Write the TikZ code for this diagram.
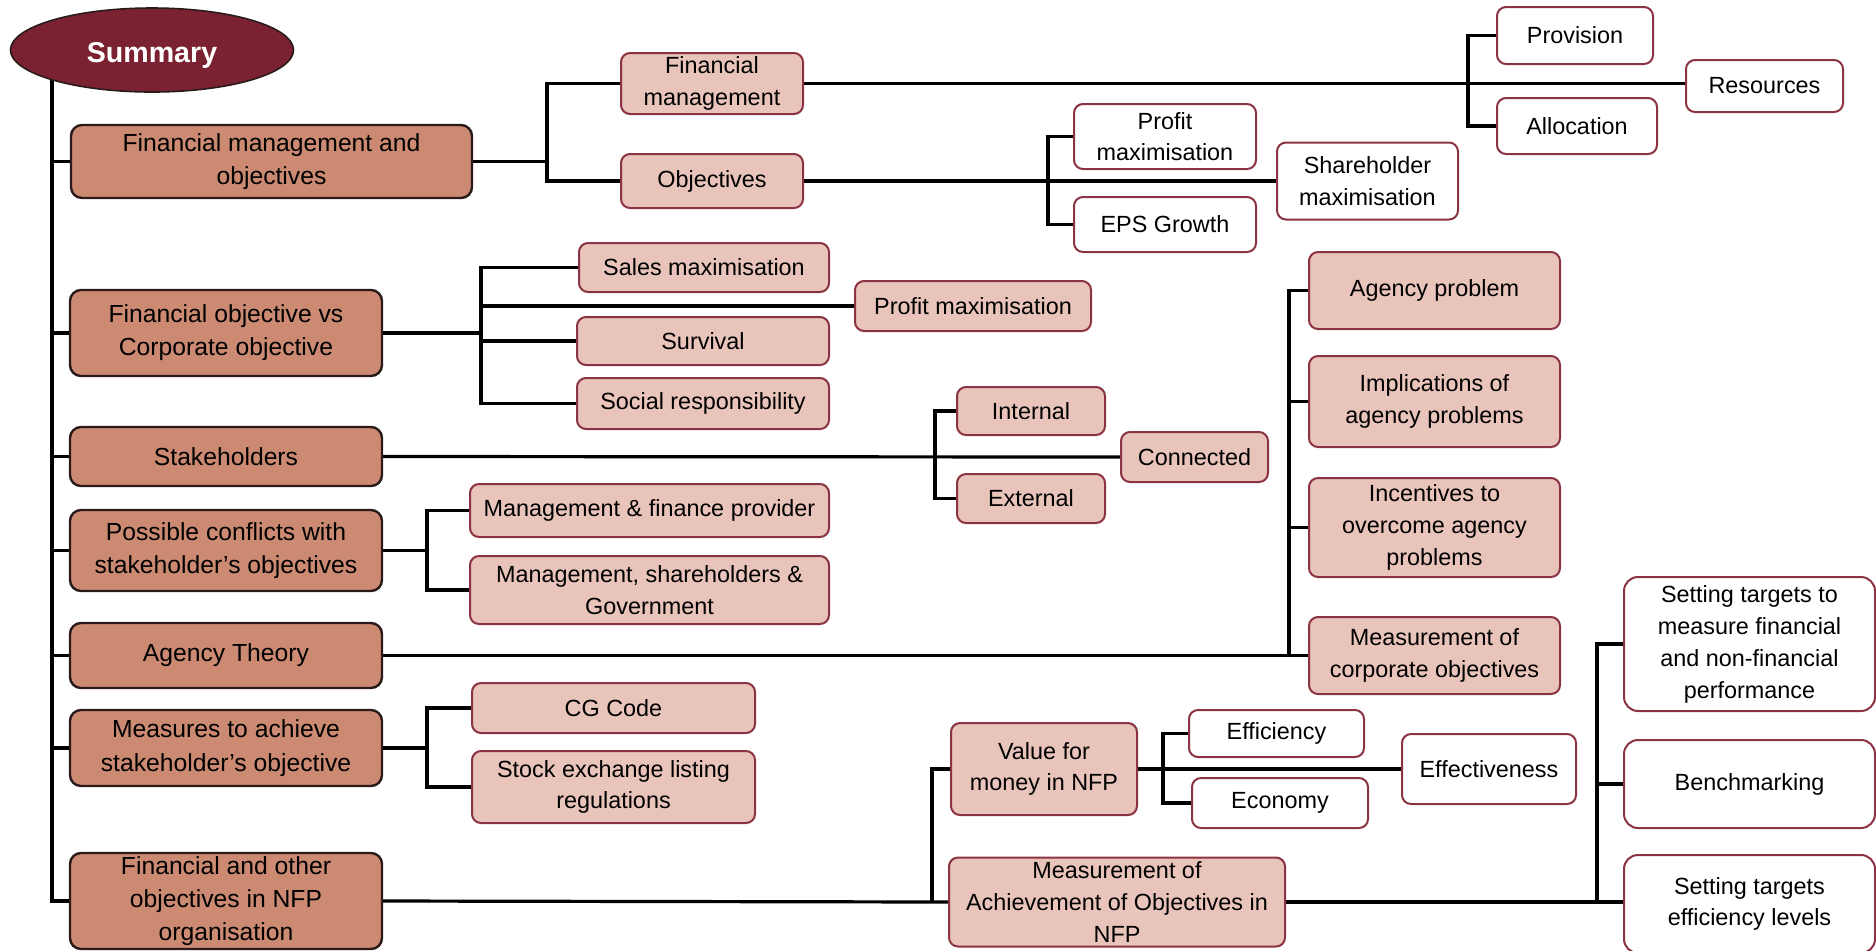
\documentclass[tikz,border=0pt]{standalone}
\usepackage{fontspec}
\setmainfont{Liberation Sans}
\usetikzlibrary{shapes.geometric}
\definecolor{sumfill}{HTML}{7A2232}
\definecolor{topfill}{HTML}{CC8A72}
\definecolor{subfill}{HTML}{E8C4BA}
\definecolor{edgedark}{HTML}{2A1A1A}
\definecolor{edgered}{HTML}{8C3343}
\pgfdeclarelayer{background}
\pgfsetlayers{background,main}

\begin{document}
\begin{tikzpicture}[x=0.5pt,y=-0.5pt,
  sz/.style 2 args={minimum width=#1*0.5pt,minimum height=#2*0.5pt},
  box/.style={rectangle,rounded corners=4.5pt,inner sep=0pt,align=center,line width=1pt,
    font=\fontsize{11.7}{15.8}\selectfont},
  topbox/.style={box,fill=topfill,draw=edgedark,line width=1.2pt,rounded corners=5.5pt,
    font=\fontsize{12.35}{16.6}\selectfont},
  subbox/.style={box,fill=subfill,draw=edgered},
  leafbox/.style={box,fill=white,draw=edgered},
  link/.style={line width=1.6pt,black}
]
\useasboundingbox (0,0) rectangle (1876,950);

% root
\node[ellipse,fill=sumfill,draw=edgedark,line width=0.8pt,sz={283}{84},inner sep=0pt,
  text height=12pt,text depth=0pt,
  text=white,font=\fontsize{14.3}{17}\selectfont\bfseries] (sum) at (152,50) {Summary};

% main topics
\node[topbox,sz={401}{73}] (fmo) at (271.5,161.5) {Financial management and\\objectives};
\node[topbox,sz={312}{86}] (fovc) at (226,333) {Financial objective vs\\Corporate objective};
\node[topbox,sz={312}{59}] (stk) at (226,456.5) {Stakeholders};
\node[topbox,sz={312}{81}] (pcs) at (226,550.5) {Possible conflicts with\\stakeholder’s objectives};
\node[topbox,sz={312}{65}] (agt) at (226,655.5) {Agency Theory};
\node[topbox,sz={312}{76}] (mas) at (226,748) {Measures to achieve\\stakeholder’s objective};
\node[topbox,sz={312}{96}] (nfp) at (226,901) {Financial and other\\objectives in NFP\\organisation};

% sub topics
\node[subbox,sz={182}{61}] (fm) at (712,83.5) {Financial\\management};
\node[subbox,sz={182}{54}] (obj) at (712,181) {Objectives};
\node[subbox,sz={250}{49}] (sales) at (704,267.5) {Sales maximisation};
\node[subbox,sz={236}{50}] (pmx2) at (973,306) {Profit maximisation};
\node[subbox,sz={252}{48}] (surv) at (703,341) {Survival};
\node[subbox,sz={252}{51}] (soc) at (703,403.5) {Social responsibility};
\node[subbox,sz={359}{53}] (mfp) at (649.5,510.5) {Management \& finance provider};
\node[subbox,sz={359}{68}] (msg) at (649.5,590) {Management, shareholders \&\\Government};
\node[subbox,sz={148}{48}] (int) at (1031,411) {Internal};
\node[subbox,sz={148}{49}] (ext) at (1031,498.5) {External};
\node[subbox,sz={147}{50}] (conn) at (1194.5,457) {Connected};
\node[subbox,sz={251}{77}] (agp) at (1434.5,290.5) {Agency problem};
\node[subbox,sz={251}{91}] (imp) at (1434.5,401.5) {Implications of\\agency problems};
\node[subbox,sz={251}{99}] (inc) at (1434.5,527.5) {Incentives to\\overcome agency\\problems};
\node[subbox,sz={251}{77}] (mco) at (1434.5,655.5) {Measurement of\\corporate objectives};
\node[subbox,sz={283}{50}] (cg) at (613.5,708) {CG Code};
\node[subbox,sz={283}{72}] (sel) at (613.5,787) {Stock exchange listing\\regulations};
\node[subbox,sz={186}{92}] (vfm) at (1044,769) {Value for\\money in NFP};
\node[subbox,sz={336}{89}] (mao) at (1117,902) {Measurement of\\Achievement of Objectives in\\NFP};

% leaves
\node[leafbox,sz={182}{65}] (pmx1) at (1165,136.5) {Profit\\maximisation};
\node[leafbox,sz={182}{55}] (eps) at (1165,224.5) {EPS Growth};
\node[leafbox,sz={181}{77}] (shm) at (1367.5,181) {Shareholder\\maximisation};
\node[leafbox,sz={156}{57}] (prov) at (1575,35.5) {Provision};
\node[leafbox,sz={160}{56}] (alloc) at (1577,126) {Allocation};
\node[leafbox,sz={157}{52}] (res) at (1764.5,86) {Resources};
\node[leafbox,sz={175}{47}] (eff) at (1276.5,733.5) {Efficiency};
\node[leafbox,sz={176}{50}] (eco) at (1280,803) {Economy};
\node[leafbox,sz={174}{70}] (effv) at (1489,769) {Effectiveness};
\node[leafbox,sz={251}{134},rounded corners=7pt,font=\fontsize{11.7}{16}\selectfont] (st1) at (1749.5,644)
  {Setting targets to\\measure financial\\and non-financial\\performance};
\node[leafbox,sz={251}{88},rounded corners=7pt] (bench) at (1749.5,784) {Benchmarking};
\node[leafbox,sz={251}{98},rounded corners=7pt,font=\fontsize{11.7}{15.8}\selectfont] (st2) at (1749.5,904)
  {Setting targets\\efficiency levels};

\begin{pgfonlayer}{background}
\fill[white] (0,0) rectangle (1876,950);

% trunk from the root
\coordinate (tk) at (52,60);
\draw[link] (tk) |- (nfp.west);
\foreach \n in {fmo,fovc,stk,pcs,agt,mas} \draw[link] (\n.west) -- (\n.west -| tk);

% financial management and objectives
\coordinate (b1) at (547,161.5);
\draw[link] (fmo.east) -- (b1);
\draw[link] (fm.west) -| (b1) |- (obj.west);
\draw[link] (fm.east) -- (fm.east -| res.west);
\coordinate (b2) at (1468,83.5);
\draw[link] (prov.west) -| (b2) |- (alloc.west);
\draw[link] (obj.east) -- (shm.west);
\coordinate (b3) at (1048,181);
\draw[link] (pmx1.west) -| (b3) |- (eps.west);

% financial vs corporate objective
\coordinate (b4) at (481,333);
\draw[link] (fovc.east) -- (b4);
\draw[link] (sales.west) -| (b4) |- (soc.west);
\draw[link] (surv.west) -- (surv.west -| b4);
\draw[link] (pmx2.west) -- (pmx2.west -| b4);

% stakeholders
\draw[link] (stk.east) -- (conn.west);
\coordinate (b5) at (935,457);
\draw[link] (int.west) -| (b5) |- (ext.west);

% conflicts
\coordinate (b6) at (427,550.5);
\draw[link] (pcs.east) -- (b6);
\draw[link] (mfp.west) -| (b6) |- (msg.west);

% agency theory
\draw[link] (agt.east) -- (mco.west);
\coordinate (b7) at (1289,655.5);
\draw[link] (agp.west) -| (b7);
\draw[link] (imp.west) -- (imp.west -| b7);
\draw[link] (inc.west) -- (inc.west -| b7);

% measures
\coordinate (b8) at (427,748);
\draw[link] (mas.east) -- (b8);
\draw[link] (cg.west) -| (b8) |- (sel.west);

% not-for-profit
\draw[link] (nfp.east) -- (mao.west);
\coordinate (b9) at (932,902);
\draw[link] (vfm.west) -| (b9);
\draw[link] (vfm.east) -- (effv.west);
\coordinate (b10) at (1163,769);
\draw[link] (eff.west) -| (b10) |- (eco.west);
\coordinate (b11) at (1597,902);
\draw[link] (mao.east) -- (b11);
\draw[link] (st1.west) -| (b11);
\draw[link] (bench.west) -- (bench.west -| b11);
\draw[link] (b11) -- (st2.west |- b11);
\end{pgfonlayer}
\end{tikzpicture}
\end{document}
